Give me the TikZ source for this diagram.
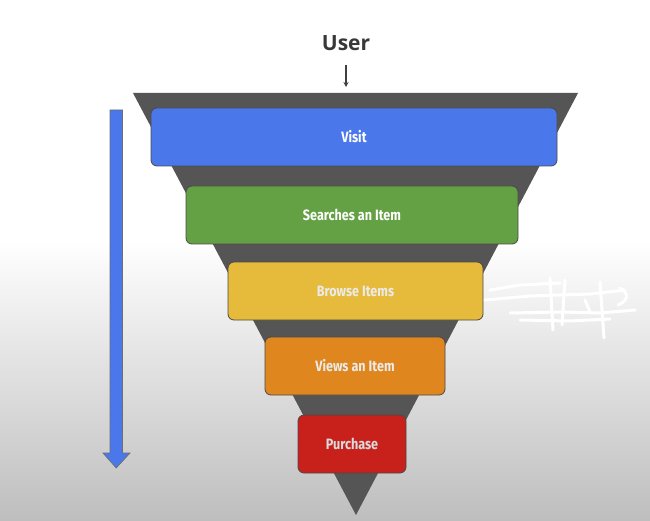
\documentclass[tikz,border=0pt]{standalone}
\usepackage{fontspec}
\usepackage{graphicx}
\setmainfont{Open Sans}
\newfontfamily\boxfont{Fira Sans}
\usetikzlibrary{arrows.meta}
\definecolor{bluebox}{HTML}{4A78EA}
\definecolor{greenbox}{HTML}{64A044}
\definecolor{yellowbox}{HTML}{E6BA3A}
\definecolor{orangebox}{HTML}{E0861E}
\definecolor{redbox}{HTML}{C8201A}
\definecolor{funnelgray}{HTML}{555555}
\definecolor{edgegray}{HTML}{4A4A4A}
\definecolor{bottomgray}{HTML}{BEBEBE}
\tikzset{
  stagebox/.style={draw=edgegray, line width=0.8pt, rounded corners=6pt, inner sep=0pt},
  stagetext/.style={font=\boxfont\bfseries\fontsize{15}{17}\selectfont},
  scribble/.style={draw=white, line width=3pt, line cap=round}
}
\begin{document}
\begin{tikzpicture}[x=1pt,y=-1pt]
\useasboundingbox (0,0) rectangle (650,521);
% background
\fill[white] (0,0) rectangle (650,240);
\shade[top color=white, bottom color=bottomgray] (0,240) rectangle (650,521);
% funnel
\fill[funnelgray] (133,93) -- (578,93) -- (356,515) -- cycle;
% stages
\node[stagebox, fill=bluebox, minimum width=406pt, minimum height=58pt] (visit) at (354,137) {};
\node[stagebox, fill=greenbox, minimum width=332pt, minimum height=58pt] (search) at (352,215) {};
\node[stagebox, fill=yellowbox, minimum width=255pt, minimum height=58pt] (browse) at (355.5,291) {};
\node[stagebox, fill=orangebox, minimum width=180pt, minimum height=58pt] (views) at (355,366) {};
\node[stagebox, fill=redbox, minimum width=108pt, minimum height=58pt] (purchase) at (352,444) {};
\node[stagetext, text=white] (tvisit) at (visit) {\scalebox{0.84}[1]{Visit}};
\node[stagetext, text=white] (tsearch) at (search) {\scalebox{0.84}[1]{Searches an Item}};
\node[stagetext, text=white!92!black] (tbrowse) at (browse) {\scalebox{0.84}[1]{Browse Items}};
\node[stagetext, text=white!92!black] (tviews) at (views) {\scalebox{0.84}[1]{Views an Item}};
\node[stagetext, text=white!86!black] (tpurchase) at (purchase) {\scalebox{0.84}[1]{Purchase}};
% user
\node[font=\bfseries\fontsize{21}{24}\selectfont, text=black!78] (user) at (346,43) {User};
\coordinate (ftop) at (346,87);
\draw[black!75, line width=1.1pt, -{Stealth[length=5pt,width=5pt]}] (346,65) -- (ftop);
% left arrow
\filldraw[fill=bluebox, draw=edgegray!80, line width=0.7pt]
  (110,110) -- (122.5,110) -- (122.5,453) -- (130,453) -- (116.2,468) -- (103,453) -- (110,453) -- cycle;
% white scribble
\draw[scribble] (490,290) -- (520,285) -- (560,283);
\draw[scribble] (485,300) -- (530,296) -- (590,294) -- (625,290);
\draw[scribble] (510,313) -- (560,312) -- (600,313) -- (635,310);
\draw[scribble] (520,320) -- (570,321) -- (610,319);
\draw[scribble] (550,278) -- (553,330);
\draw[scribble] (565,280) -- (562,325);
\draw[scribble] (600,282) -- (604,338);
\draw[scribble] (585,300) -- (590,312);
\draw[scribble] (620,288) .. controls (628,292) and (630,300) .. (618,305);
\end{tikzpicture}
\end{document}
